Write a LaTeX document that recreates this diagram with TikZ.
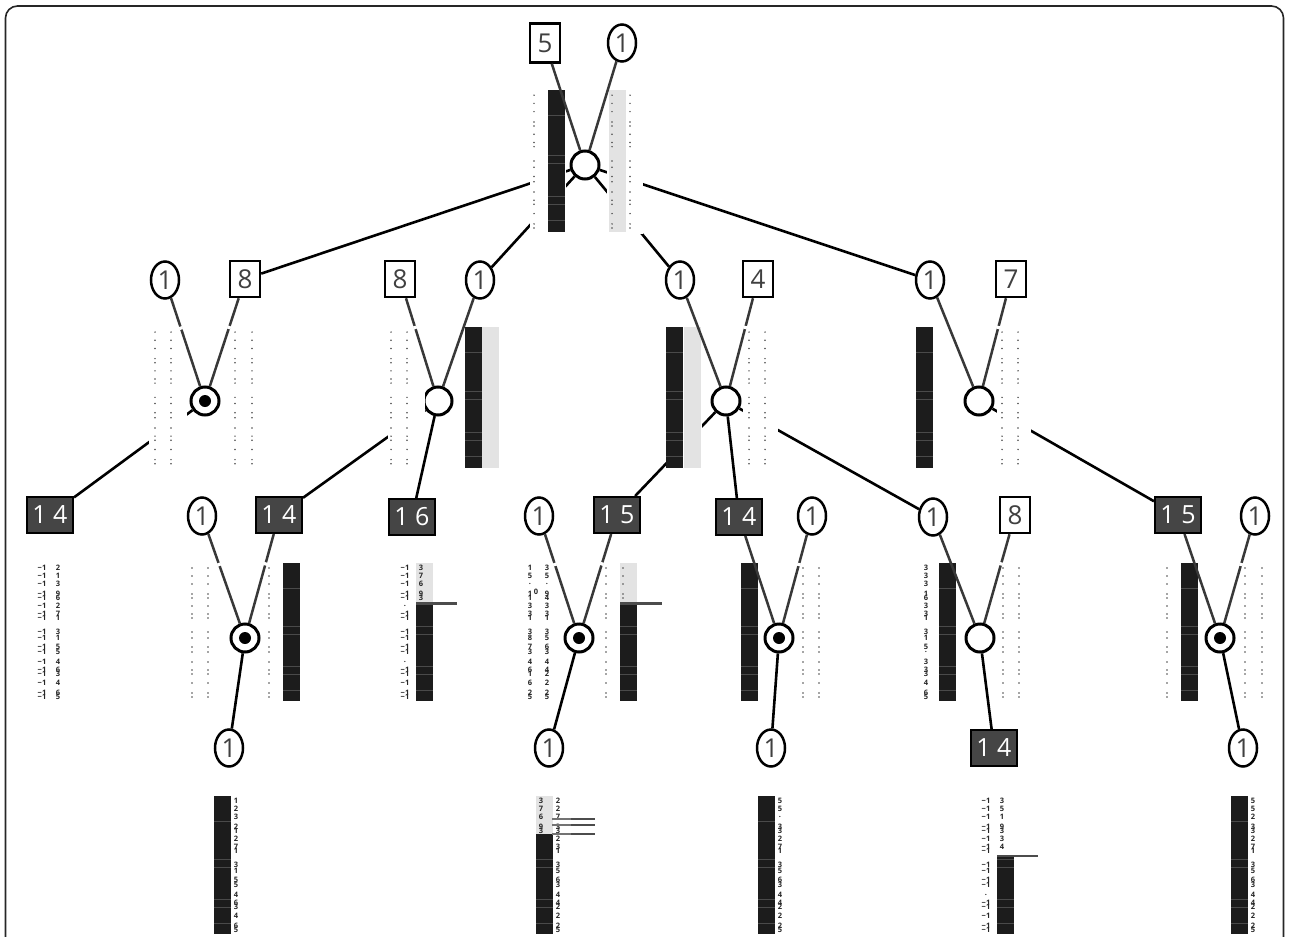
\documentclass[tikz,border=0pt]{standalone}
\usepackage{fontspec}
\setmainfont{Open Sans}
\usetikzlibrary{shapes.geometric,calc}
\definecolor{barblack}{HTML}{1C1C1C}
\definecolor{bargray}{HTML}{E3E3E3}
\definecolor{boxdark}{HTML}{454545}
\definecolor{stripe}{HTML}{4A4A4A}
\tikzset{
  oval/.style={ellipse,draw=black,line width=2.5pt,fill=white,minimum width=28pt,minimum height=37pt,inner sep=0pt,font=\fontsize{26}{26}\selectfont,text=black!75},
  lightbox/.style={rectangle,draw=black,line width=2.5pt,fill=white,minimum width=30pt,minimum height=36pt,inner sep=0pt,font=\fontsize{26}{26}\selectfont,text=black!75},
  darkbox/.style={rectangle,draw=black,line width=2pt,fill=boxdark,minimum width=46pt,minimum height=36pt,inner sep=0pt,font=\fontsize{25}{25}\selectfont,text=white},
  hub/.style={circle,draw=black,line width=3pt,fill=white,minimum size=28pt,inner sep=0pt},
  hubdot/.style={circle,fill=black,minimum size=12pt,inner sep=0pt},
  upline/.style={draw=black!78,line width=2.5pt},
  lowline/.style={draw=black,line width=2.6pt},
  tinytext/.style={inner sep=0pt,font=\bfseries\fontsize{7.5}{7.5}\selectfont,text=black!85},
  markline/.style={draw=black!70,line width=2.4pt},
  markthin/.style={draw=black!55,line width=1.2pt},
}
\def\offs{{5,13,21,31,35,43,51,55,69,75,84,89,99,107,111,120,130,134}}
\def\rs{1}
\newcommand{\dotcol}[2]{%
  \foreach \o in {5,13,21,31,35,43,51,55,69,75,84,89,99,107,111,120,130,134}{%
    \fill[black!70] (#1,{#2+\rs*\o}) circle (0.85pt);}}
\newcommand{\txtcol}[3]{%
  \foreach \t [count=\i] in {#3}{%
    \pgfmathsetmacro{\oo}{\offs[\i-1]*\rs}%
    \node[tinytext] (t#1n#2n\i) at (#1,{#2+\oo}) {\t};}}
\newcommand{\dbar}[4]{% x, top, bottom, gray-to
  \fill[barblack] (#1,#2) rectangle (#1+17,#3);
  \foreach \o in {25,63,71,103,111,127}{%
    \draw[stripe,line width=0.7pt] (#1,{#2+\rs*\o}) -- (#1+17,{#2+\rs*\o});}
  \ifnum#4>#2 \fill[bargray] (#1,#2) rectangle (#1+17,#4);\fi}
\newcommand{\graybar}[3]{\fill[bargray] (#1,#2) rectangle (#1+17,#3);}
\newcommand{\brk}[2]{\draw[white,line width=3.4pt] ($(#1)!.385!(#2)$) -- ($(#1)!.41!(#2)$);}
\newcommand{\mask}[4]{\fill[white] (#1,#2) rectangle (#3,#4);}
\begin{document}
\begin{tikzpicture}[x=1pt,y=-1pt]
\useasboundingbox (0,0) rectangle (1289,936);
\fill[white] (0,0) rectangle (1289,936);
\draw[black!85,line width=1.6pt,rounded corners=12pt] (5.5,940) -- (5.5,6) -- (1283.5,6) -- (1283.5,940);
% nodes
\node[lightbox,minimum height=39pt] (b5) at (545,43) {5};
\node[oval] (o1) at (622,43) {1};
\node[hub] (h0) at (585,165) {};
\node[oval] (a1) at (165,280) {1};
\node[lightbox] (a2) at (245,279) {8};
\node[hub] (ha) at (205,401) {};
\node[hubdot] (da) at (205,401) {};
\node[lightbox] (c1) at (400,279) {8};
\node[oval] (c2) at (480,280) {1};
\node[hub] (hc) at (438,401) {};
\node[oval] (e1) at (680,280) {1};
\node[lightbox] (e2) at (758,279) {4};
\node[hub] (he) at (726,401) {};
\node[oval] (g1) at (930,280) {1};
\node[lightbox] (g2) at (1011,279) {7};
\node[hub] (hg) at (979,401) {};
\node[darkbox] (k1) at (50,515) {1 4};
\node[oval] (m1) at (202,516) {1};
\node[darkbox] (m2) at (279,515) {1 4};
\node[hub] (hm) at (245,638) {};
\node[hubdot] (dm) at (245,638) {};
\node[oval] (m3) at (229,748) {1};
\node[darkbox] (p1) at (412,517) {1 6};
\node[oval] (q1) at (539,516) {1};
\node[darkbox] (q2) at (617,515) {1 5};
\node[hub] (hq) at (579,638) {};
\node[hubdot] (dq) at (579,638) {};
\node[oval] (q3) at (549,748) {1};
\node[darkbox] (r1) at (739,517) {1 4};
\node[oval] (r2) at (812,516) {1};
\node[hub] (hr) at (779,638) {};
\node[hubdot] (dr) at (779,638) {};
\node[oval] (r3) at (771,748) {1};
\node[oval] (s1) at (933,517) {1};
\node[lightbox] (s2) at (1015,515) {8};
\node[hub] (hs) at (980,638) {};
\node[darkbox] (s3) at (994,748) {1 4};
\node[darkbox] (u1) at (1178,515) {1 5};
\node[oval] (u2) at (1255,516) {1};
\node[hub] (hu) at (1220,638) {};
\node[hubdot] (du) at (1220,638) {};
\node[oval] (u3) at (1243,748) {1};
% lower connectors that pass behind the data columns
\draw[lowline] (h0) -- (a2);
\draw[lowline] (h0) -- (c2);
\draw[lowline] (h0) -- (e1);
\draw[lowline] (h0) -- (g1);
\draw[lowline] (ha) -- (k1);
\draw[lowline] (hc) -- (m2);
\draw[lowline] (he) -- (q2);
\draw[lowline] (he) -- (s1);
\draw[lowline] (hg) -- (u1);
% masks
\mask{530}{90}{566}{234}
\mask{607}{90}{643}{234}
\mask{149}{327}{187}{468}
\mask{388}{327}{425}{468}
\mask{666}{327}{702}{468}
\mask{743}{327}{778}{468}
\mask{997}{327}{1031}{468}
% top row
\def\rs{1.03}
\dotcol{534}{90}
\dbar{548}{90}{232}{0}
\graybar{609}{90}{232}
\dotcol{612}{90}
\dotcol{630}{90}
% second row
\def\rs{1.02}
\dotcol{155}{327}\dotcol{171}{327}\dotcol{235}{327}\dotcol{252}{327}
\dotcol{391}{327}\dotcol{407}{327}
\dbar{465}{327}{468}{0}
\graybar{482}{327}{468}
\dbar{666}{327}{468}{0}
\graybar{684}{327}{468}
\dotcol{749}{327}\dotcol{765}{327}
\dbar{916}{327}{468}{0}
\dotcol{1002}{327}\dotcol{1018}{327}
% third row
\def\rs{1}
\txtcol{42}{563}{−1,−1,−1,−1,−1,−1,−1,−1,−1,−1,−1,−1,−1,−1,−1,−1,−1,−1}
\txtcol{58}{563}{2,1,3,9,6,2,7,1,3,1,5,5,4,6,3,4,6,5}
\dotcol{192}{563}\dotcol{208}{563}\dotcol{269}{563}
\dbar{283}{563}{701}{0}
\txtcol{405}{563}{−1,−1,−1,−1,−1,.,−1,−1,−1,−1,−1,−1,.,−1,−1,−1,−1,−1}
\dbar{416}{563}{701}{604}
\txtcol{421}{563}{3,7,6,9,3}
\txtcol{530}{563}{1,5,.,1,1,3,3,1,3,8,7,3,4,6,1,6,2,5}
\txtcol{547}{563}{3,5,.,9,4,3,3,1,3,5,6,3,4,4,2,2,2,5}
\node[tinytext] (zero) at (536,592) {0};
\dotcol{606}{563}
\dbar{620}{563}{701}{604}
\begin{scope}
\clip (620,563) rectangle (637,603);
\dotcol{623}{563}
\end{scope}
\dbar{741}{563}{701}{0}
\dotcol{803}{563}\dotcol{819}{563}
\txtcol{926}{563}{3,3,3,1,6,3,3,1,3,1,5,.,3,3,3,4,6,5}
\dbar{939}{563}{701}{0}
\dotcol{1003}{563}\dotcol{1019}{563}
\dotcol{1167}{563}
\dbar{1181}{563}{701}{0}
\dotcol{1245}{563}\dotcol{1262}{563}
% fourth row
\dbar{214}{796}{934}{0}
\txtcol{236}{796}{1,2,3,2,1,2,7,1,3,1,5,5,4,6,3,4,6,5}
\dbar{536}{796}{934}{834}
\txtcol{541}{796}{3,7,6,9,3}
\txtcol{558}{796}{2,2,7,3,3,2,3,1,3,5,6,3,4,4,2,2,2,5}
\dbar{758}{796}{934}{0}
\txtcol{780}{796}{5,5,.,3,3,2,7,1,3,5,6,3,4,4,2,2,2,5}
\txtcol{986}{796}{−1,−1,−1,−1,−1,−1,−1,−1,−1,−1,−1,−1,.,−1,−1,−1,−1,−1}
\dbar{997}{796}{934}{856}
\fill[white] (997,796) rectangle (1014,855);
\txtcol{1002}{796}{3,5,1,9,3,3,4}
\dbar{1231}{796}{934}{0}
\txtcol{1253}{796}{5,5,2,3,3,2,7,1,3,5,6,3,4,4,2,2,2,5}
% marker lines
\coordinate (ma1) at (416,603.5); \coordinate (ma2) at (457,603.5);
\coordinate (mb1) at (620,603.5); \coordinate (mb2) at (662,603.5);
\coordinate (mc1) at (997,856); \coordinate (mc2) at (1038,856);
\draw[markline] (ma1) -- (ma2);
\draw[markline] (mb1) -- (mb2);
\draw[markline] (mc1) -- (mc2);
\coordinate (md1) at (552,819); \coordinate (md0) at (571,819); \coordinate (md2) at (595,819);
\coordinate (me1) at (552,825); \coordinate (me0) at (571,825); \coordinate (me2) at (595,825);
\coordinate (mf1) at (552,834); \coordinate (mf0) at (571,834); \coordinate (mf2) at (595,834);
\draw[markthin] (md1) -- (md0);
\draw[markthin] (me1) -- (me0);
\draw[markthin] (mf1) -- (mf0);
\draw[markline] (md0) -- (md2);
\draw[markline] (me0) -- (me2);
\draw[markline] (mf0) -- (mf2);
% upper connectors
\draw[upline] (b5) -- (h0);
\draw[upline] (o1) -- (h0);
\draw[upline] (a1) -- (ha);
\draw[upline] (a2) -- (ha);
\draw[upline] (c1) -- (hc);
\draw[upline] (c2) -- (hc);
\draw[upline] (e1) -- (he);
\draw[upline] (e2) -- (he);
\draw[upline] (g1) -- (hg);
\draw[upline] (g2) -- (hg);
\draw[upline] (m1) -- (hm);
\draw[upline] (m2) -- (hm);
\draw[upline] (q1) -- (hq);
\draw[upline] (q2) -- (hq);
\draw[upline] (r1) -- (hr);
\draw[upline] (r2) -- (hr);
\draw[upline] (s1) -- (hs);
\draw[upline] (s2) -- (hs);
\draw[upline] (u1) -- (hu);
\draw[upline] (u2) -- (hu);
% breaks
\brk{a1}{ha}\brk{a2}{ha}\brk{c1}{hc}\brk{g2}{hg}\brk{e2}{he}
\brk{m1}{hm}\brk{m2}{hm}\brk{q1}{hq}\brk{q2}{hq}\brk{r2}{hr}\brk{s2}{hs}\brk{u2}{hu}
% solid lower connectors
\draw[lowline] (hc) -- (p1);
\draw[lowline] (he) -- (r1);
\draw[lowline] (hm) -- (m3);
\draw[lowline] (hq) -- (q3);
\draw[lowline] (hr) -- (r3);
\draw[lowline] (hs) -- (s3);
\draw[lowline] (hu) -- (u3);
\end{tikzpicture}
\end{document}
